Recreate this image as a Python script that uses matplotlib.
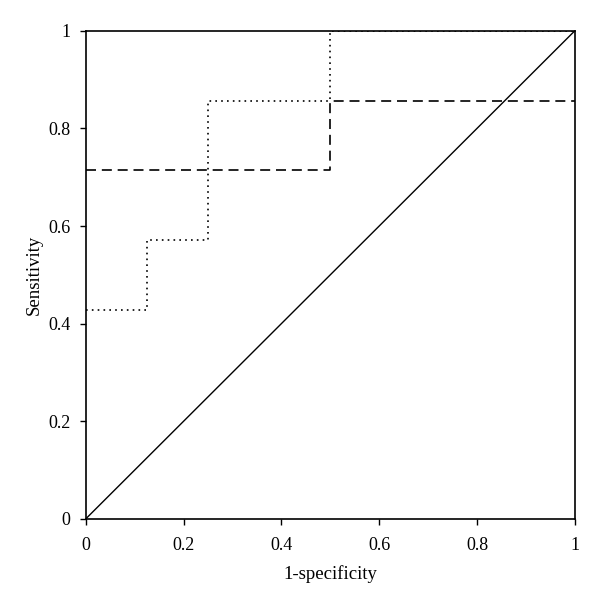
import numpy as np
import matplotlib
matplotlib.use("Agg")
import matplotlib.pyplot as plt

plt.rcParams['font.family'] = ['Liberation Serif', 'DejaVu Serif']

# ROC curves (step functions), 1-specificity vs sensitivity
fpr_dot = [0, 0.125, 0.125, 0.25, 0.25, 0.5, 0.5, 1.0]
tpr_dot = [0.4286, 0.4286, 0.5714, 0.5714, 0.8571, 0.8571, 1.0, 1.0]

fpr_dash = [0, 0.5, 0.5, 1.0]
tpr_dash = [0.7143, 0.7143, 0.8571, 0.8571]

ref = [0, 1]
ticks = [0, 0.2, 0.4, 0.6, 0.8, 1]
tick_labels = ['0', '0.2', '0.4', '0.6', '0.8', '1']

fig = plt.figure(figsize=(6, 6.04), dpi=100)
ax = fig.add_axes([0.143, 0.141, 0.815, 0.808])

ax.plot(ref, ref, color='black', lw=1.0)
ax.plot(fpr_dash, tpr_dash, color='black', lw=1.2, linestyle=(0, (6, 3.5)))
ax.plot(fpr_dot, tpr_dot, color='black', lw=1.2, linestyle=(0, (1, 2.5)))

ax.set_xlim(0, 1)
ax.set_ylim(0, 1)
ax.set_xticks(ticks)
ax.set_xticklabels(tick_labels)
ax.set_yticks(ticks)
ax.set_yticklabels(tick_labels)
ax.tick_params(direction='out', length=4, width=1, labelsize=13)
ax.tick_params(axis='x', pad=9)
ax.tick_params(axis='y', pad=7)
for s in ax.spines.values():
    s.set_linewidth(1.2)

ax.set_xlabel('1-specificity', fontsize=13.5, labelpad=8)
ax.set_ylabel('Sensitivity', fontsize=13.5, labelpad=4)

fig.savefig('out.png', dpi=100)
